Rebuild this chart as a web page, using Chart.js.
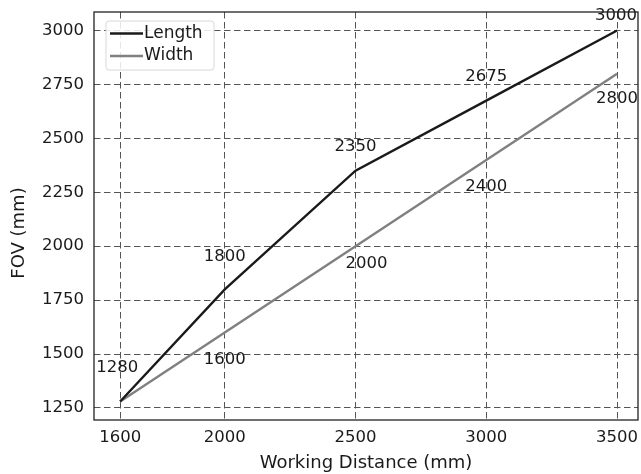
<!DOCTYPE html>
<html>
<head>
<meta charset="utf-8">
<script src="https://cdn.jsdelivr.net/npm/chart.js@4/dist/chart.umd.min.js"></script>
<style>
html,body{margin:0;padding:0;background:#fff;}
#wrap{width:641px;height:474px;position:relative;}
</style>
</head>
<body>
<div id="wrap"><canvas id="c" width="641" height="474"></canvas></div>
<script>
// ---- data ----
const workingDistance = [1600, 2000, 2500, 3000, 3500];
const lengthFOV = [1280, 1800, 2350, 2675, 3000];
const widthFOV = [1280, 1600, 2000, 2400, 2800];
const xTicks = [1600, 2000, 2500, 3000, 3500];
const yTicks = [1250, 1500, 1750, 2000, 2250, 2500, 2750, 3000];
const seriesNames = ['Length', 'Width'];
const xTitle = 'Working Distance (mm)';
const yTitle = 'FOV (mm)';

// ---- styles (label offsets in px) ----
const lengthLabelOffsets = [[-3,-34],[0,-33],[0,-24],[0,-24],[-1,-15]];
const widthLabelOffsets  = [null,[0,27],[11,18],[0,27],[0,25]];

const FONT = "'DejaVu Sans', sans-serif";

const toPts = (xs, ys) => xs.map((x, i) => ({x: x, y: ys[i]}));

const labelPlugin = {
  id: 'pointLabels',
  afterDatasetsDraw(chart) {
    const ctx = chart.ctx;
    ctx.save();
    ctx.font = '16.5px ' + FONT;
    ctx.fillStyle = '#1a1a1a';
    ctx.textAlign = 'center';
    ctx.textBaseline = 'middle';
    chart.data.datasets.forEach((ds, di) => {
      const meta = chart.getDatasetMeta(di);
      const offs = di === 0 ? lengthLabelOffsets : widthLabelOffsets;
      meta.data.forEach((pt, i) => {
        if (!offs[i]) return;
        ctx.fillText(String(ds.data[i].y), pt.x + offs[i][0], pt.y + offs[i][1]);
      });
    });
    ctx.restore();
  }
};

const framePlugin = {
  id: 'frameLegend',
  afterDraw(chart) {
    const ctx = chart.ctx;
    const a = chart.chartArea;
    ctx.save();
    ctx.strokeStyle = '#222';
    ctx.lineWidth = 1.3;
    ctx.strokeRect(a.left, a.top, a.right - a.left, a.bottom - a.top);
    // y-axis title
    ctx.save();
    ctx.translate(19.5, (a.top + a.bottom) / 2 + 17);
    ctx.rotate(-Math.PI / 2);
    ctx.font = '18px ' + FONT;
    ctx.fillStyle = '#1a1a1a';
    ctx.textAlign = 'center';
    ctx.textBaseline = 'middle';
    ctx.fillText(yTitle, 0, 0);
    ctx.restore();
    // legend
    const lx = a.left + 12, ly = a.top + 9, lw = 108, lh = 49;
    ctx.fillStyle = 'rgba(255,255,255,0.85)';
    ctx.strokeStyle = '#d8d8d8';
    ctx.lineWidth = 1;
    ctx.beginPath();
    if (ctx.roundRect) ctx.roundRect(lx, ly, lw, lh, 3); else ctx.rect(lx, ly, lw, lh);
    ctx.fill();
    ctx.stroke();
    ctx.font = '17px ' + FONT;
    ctx.textAlign = 'left';
    ctx.textBaseline = 'middle';
    chart.data.datasets.forEach((ds, i) => {
      const yy = ly + 12.5 + i * 22.5;
      ctx.strokeStyle = ds.borderColor;
      ctx.lineWidth = ds.borderWidth;
      ctx.beginPath();
      ctx.moveTo(lx + 4, yy);
      ctx.lineTo(lx + 37, yy);
      ctx.stroke();
      ctx.fillStyle = '#1a1a1a';
      ctx.fillText(ds.label, lx + 38, yy);
    });
    ctx.restore();
  }
};

new Chart(document.getElementById('c'), {
  type: 'line',
  data: {
    datasets: [
      {label: seriesNames[0], data: toPts(workingDistance, lengthFOV), borderColor: '#1a1a1a', borderWidth: 2.4, pointRadius: 0, tension: 0, fill: false},
      {label: seriesNames[1], data: toPts(workingDistance, widthFOV), borderColor: '#808080', borderWidth: 2.4, pointRadius: 0, tension: 0, fill: false}
    ]
  },
  options: {
    responsive: false,
    animation: false,
    events: [],
    layout: {padding: {top: 12, right: 3, left: 0, bottom: 0}},
    plugins: {legend: {display: false}, tooltip: {enabled: false}},
    scales: {
      x: {
        type: 'linear',
        min: 1500, max: 3580,
        afterBuildTicks: s => { s.ticks = xTicks.map(v => ({value: v})); },
        afterFit: s => { s.height = 54; s.paddingLeft = 0; s.paddingRight = 0; },
        grid: {color: '#555', lineWidth: 1, drawTicks: false},
        border: {display: false, dash: [6.5, 3.5]},
        ticks: {color: '#1a1a1a', font: {family: FONT, size: 16.5}, padding: 8, maxRotation: 0, autoSkip: false,
                callback: v => String(v)},
        title: {display: true, text: xTitle, color: '#1a1a1a', font: {family: FONT, size: 18}, padding: {top: 2, bottom: 0}}
      },
      y: {
        type: 'linear',
        min: 1194, max: 3086,
        afterBuildTicks: s => { s.ticks = yTicks.map(v => ({value: v})); },
        afterFit: s => { s.width = 94; s.paddingTop = 0; s.paddingBottom = 0; },
        grid: {color: '#555', lineWidth: 1, drawTicks: false},
        border: {display: false, dash: [6.5, 3.5]},
        ticks: {color: '#1a1a1a', font: {family: FONT, size: 16.5}, padding: 10, autoSkip: false,
                callback: v => String(v)},
        title: {display: false, text: yTitle}
      }
    }
  },
  plugins: [labelPlugin, framePlugin]
});
</script>
</body>
</html>
